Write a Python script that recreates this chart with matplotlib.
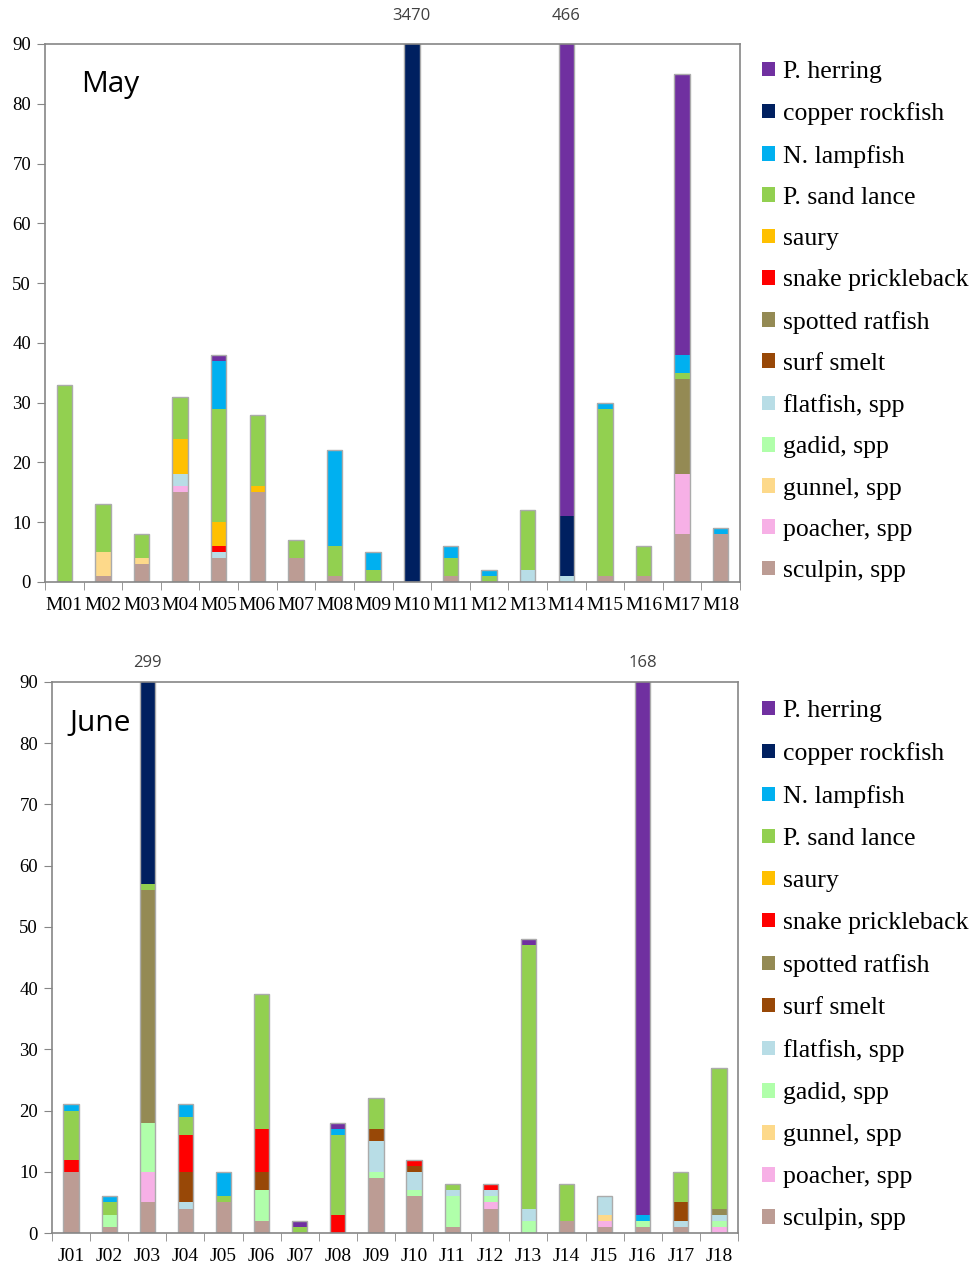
import numpy as np
import matplotlib
matplotlib.use("Agg")
import matplotlib.pyplot as plt

species = ["sculpin, spp", "poacher, spp", "gunnel, spp", "gadid, spp", "flatfish, spp",
           "surf smelt", "spotted ratfish", "snake prickleback", "saury", "P. sand lance",
           "N. lampfish", "copper rockfish", "P. herring"]
colors = ["#BC9C94", "#F7B0E6", "#FDD98A", "#B0FFAA", "#B8DDE6",
          "#984807", "#948A54", "#FF0000", "#FFC000", "#92D050",
          "#00B0F0", "#002060", "#7030A0"]

may_labels = ["M%02d" % i for i in range(1, 19)]
june_labels = ["J%02d" % i for i in range(1, 19)]

# May counts, M01..M18
may_sculpin     = [0, 1, 3, 15, 4, 15, 4, 1, 0, 0, 1, 0, 0, 0, 1, 1, 8, 8]
may_poacher     = [0, 0, 0, 1, 0, 0, 0, 0, 0, 0, 0, 0, 0, 0, 0, 0, 10, 0]
may_gunnel      = [0, 4, 1, 0, 0, 0, 0, 0, 0, 0, 0, 0, 0, 0, 0, 0, 0, 0]
may_gadid       = [0, 0, 0, 0, 0, 0, 0, 0, 0, 0, 0, 0, 0, 0, 0, 0, 0, 0]
may_flatfish    = [0, 0, 0, 2, 1, 0, 0, 0, 0, 0, 0, 0, 2, 1, 0, 0, 0, 0]
may_surfsmelt   = [0, 0, 0, 0, 0, 0, 0, 0, 0, 0, 0, 0, 0, 0, 0, 0, 0, 0]
may_ratfish     = [0, 0, 0, 0, 0, 0, 0, 0, 0, 0, 0, 0, 0, 0, 0, 0, 16, 0]
may_prickleback = [0, 0, 0, 0, 1, 0, 0, 0, 0, 0, 0, 0, 0, 0, 0, 0, 0, 0]
may_saury       = [0, 0, 0, 6, 4, 1, 0, 0, 0, 0, 0, 0, 0, 0, 0, 0, 0, 0]
may_sandlance   = [33, 8, 4, 7, 19, 12, 3, 5, 2, 0, 3, 1, 10, 0, 28, 5, 1, 0]
may_lampfish    = [0, 0, 0, 0, 8, 0, 0, 16, 3, 0, 2, 1, 0, 0, 1, 0, 3, 1]
may_rockfish    = [0, 0, 0, 0, 0, 0, 0, 0, 0, 3470, 0, 0, 0, 10, 0, 0, 0, 0]
may_herring     = [0, 0, 0, 0, 1, 0, 0, 0, 0, 0, 0, 0, 0, 455, 0, 0, 47, 0]

# June counts, J01..J18
june_sculpin     = [10, 1, 5, 4, 5, 2, 0, 0, 9, 6, 1, 4, 0, 2, 1, 1, 1, 0]
june_poacher     = [0, 0, 5, 0, 0, 0, 0, 0, 0, 0, 0, 1, 0, 0, 1, 0, 0, 1]
june_gunnel      = [0, 0, 0, 0, 0, 0, 0, 0, 0, 0, 0, 0, 0, 0, 1, 0, 0, 0]
june_gadid       = [0, 2, 8, 0, 0, 5, 0, 0, 1, 1, 5, 1, 2, 0, 0, 1, 0, 1]
june_flatfish    = [0, 0, 0, 1, 0, 0, 0, 0, 5, 3, 1, 1, 2, 0, 3, 0, 1, 1]
june_surfsmelt   = [0, 0, 0, 5, 0, 3, 0, 0, 2, 1, 0, 0, 0, 0, 0, 0, 3, 0]
june_ratfish     = [0, 0, 38, 0, 0, 0, 0, 0, 0, 0, 0, 0, 0, 0, 0, 0, 0, 1]
june_prickleback = [2, 0, 0, 6, 0, 7, 0, 3, 0, 1, 0, 1, 0, 0, 0, 0, 0, 0]
june_saury       = [0, 0, 0, 0, 0, 0, 0, 0, 0, 0, 0, 0, 0, 0, 0, 0, 0, 0]
june_sandlance   = [8, 2, 1, 3, 1, 22, 1, 13, 5, 0, 1, 0, 43, 6, 0, 0, 5, 23]
june_lampfish    = [1, 1, 0, 2, 4, 0, 0, 1, 0, 0, 0, 0, 0, 0, 0, 1, 0, 0]
june_rockfish    = [0, 0, 242, 0, 0, 0, 0, 0, 0, 0, 0, 0, 0, 0, 0, 0, 0, 0]
june_herring     = [0, 0, 0, 0, 0, 0, 1, 1, 0, 0, 0, 0, 1, 0, 0, 165, 0, 0]

may_data = [may_sculpin, may_poacher, may_gunnel, may_gadid, may_flatfish, may_surfsmelt,
            may_ratfish, may_prickleback, may_saury, may_sandlance, may_lampfish,
            may_rockfish, may_herring]
june_data = [june_sculpin, june_poacher, june_gunnel, june_gadid, june_flatfish, june_surfsmelt,
             june_ratfish, june_prickleback, june_saury, june_sandlance, june_lampfish,
             june_rockfish, june_herring]

serif = "Liberation Serif"
sans = "Open Sans"
grey = "#868686"

fig = plt.figure(figsize=(9.72, 12.66), dpi=100)
ax1 = fig.add_axes([45 / 972, 1 - 582 / 1266, 695 / 972, 538 / 1266])
ax2 = fig.add_axes([52 / 972, 1 - 1233 / 1266, 686 / 972, 551 / 1266])


def draw(ax, data, labels, title, title_x, lab_off, leg_top, spacing):
    x = np.arange(len(labels))
    bottom = np.zeros(len(labels))
    handles = []
    for vals, c, name in zip(data, colors, species):
        vals = np.array(vals, dtype=float)
        h = ax.bar(x, vals, 0.4, bottom=bottom, color=c, linewidth=0, label=name)
        handles.append(h)
        bottom += vals
    # bar outline
    ax.bar(x, bottom, 0.4, fill=False, edgecolor="#ABABAB", linewidth=1.0)
    ax.set_ylim(0, 90)
    ax.set_xlim(-0.5, len(labels) - 0.5)
    for i, t in enumerate(bottom):
        if t > 90:
            ax.annotate(str(int(t)), xy=(i, 90), xytext=(0, lab_off), textcoords="offset pixels",
                        ha="center", va="center", fontsize=12, family=sans, color="#404040",
                        annotation_clip=False)
    ax.set_yticks(range(0, 91, 10))
    ax.set_xticks(x)
    ax.set_xticklabels(labels)
    ax.set_xticks(np.arange(-0.5, len(labels)), minor=True)
    ax.tick_params(axis="x", which="major", length=0, pad=11)
    ax.tick_params(axis="x", which="minor", length=6, direction="out", color=grey)
    ax.tick_params(axis="y", length=6, direction="out", color=grey, pad=4)
    for lab in ax.get_xticklabels():
        lab.set_family(serif)
        lab.set_fontsize(14)
    for lab in ax.get_yticklabels():
        lab.set_family(serif)
        lab.set_fontsize(13.5)
    for s in ax.spines.values():
        s.set_color(grey)
        s.set_linewidth(1.2)
    ax.text(title_x, 0.925, title, transform=ax.transAxes, fontsize=21.5, family=sans,
            ha="left", va="center")
    fig.legend(handles[::-1], species[::-1], loc="upper left",
               bbox_to_anchor=(762 / 972, 1 - leg_top / 1266), frameon=False,
               prop={"family": serif, "size": 18.5}, handlelength=0.5, handleheight=0.5,
               handletextpad=0.3, labelspacing=spacing, borderpad=0, borderaxespad=0)


draw(ax1, may_data, may_labels, "May", 0.052, 28, 61, 0.75)
draw(ax2, june_data, june_labels, "June", 0.025, 19, 700, 0.78)

fig.savefig("out.png", dpi=100)
